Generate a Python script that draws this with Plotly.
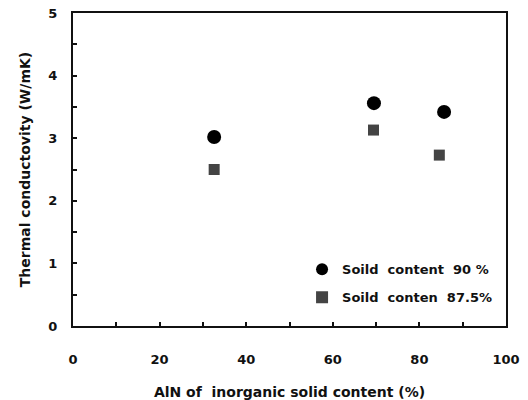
import plotly.graph_objects as go

x90 = [32.6, 69.5, 85.7]
y90 = [3.02, 3.56, 3.42]
x875 = [32.6, 69.4, 84.6]
y875 = [2.50, 3.13, 2.73]

FAM = "DejaVu Sans, Verdana, sans-serif"

fig = go.Figure()
fig.add_trace(go.Scatter(x=x90, y=y90, mode="markers", name="Soild\u00a0 content\u00a0 90 %",
                         legendgroup="a",
                         marker=dict(symbol="circle", size=14, color="#000000")))
fig.add_trace(go.Scatter(x=x875, y=y875, mode="markers", name="Soild\u00a0 conten\u00a0 87.5%",
                         legendgroup="b",
                         marker=dict(symbol="square", size=11, color="#444444")))

axis_common = dict(showgrid=False, zeroline=False, automargin=False,
                   showline=True, linecolor="#111", linewidth=2, mirror=True,
                   ticks="inside", ticklen=4, tickcolor="#111", tickwidth=1.5,
                   ticklabeloverflow="allow",
                   tickfont=dict(size=13, weight="bold", family=FAM, color="#111"))

fig.update_layout(
    width=528, height=400,
    margin=dict(l=73, r=22, t=13, b=74),
    plot_bgcolor="white", paper_bgcolor="white",
    font=dict(family=FAM, color="#111"),
    showlegend=True,
    legend=dict(x=0.529, y=0.229, xanchor="left", yanchor="top",
                bgcolor="rgba(0,0,0,0)", font=dict(size=13, weight="bold", family=FAM, color="#111"),
                itemsizing="constant", tracegroupgap=8, traceorder="grouped"),
    xaxis=dict(range=[0, 100], dtick=20, tick0=0,
               minor=dict(dtick=10, ticks="inside", ticklen=4, tickcolor="#111", tickwidth=1.5),
               ticklabelstandoff=20,
               title=dict(text="AlN of  inorganic solid content (%)", standoff=25,
                          font=dict(size=14, weight="bold", family=FAM, color="#111")),
               **axis_common),
    yaxis=dict(range=[0, 5], dtick=1, tick0=0,
               minor=dict(dtick=0.5, ticks="inside", ticklen=4, tickcolor="#111", tickwidth=1.5),
               ticklabelstandoff=11,
               title=dict(text="Thermal conductovity (W/mK)", standoff=14,
                          font=dict(size=14, weight="bold", family=FAM, color="#111")),
               **axis_common),
)
fig.write_html("out.html",
               config={"displayModeBar": False},
               post_script="document.body.style.margin='0';document.documentElement.style.overflow='hidden';")
